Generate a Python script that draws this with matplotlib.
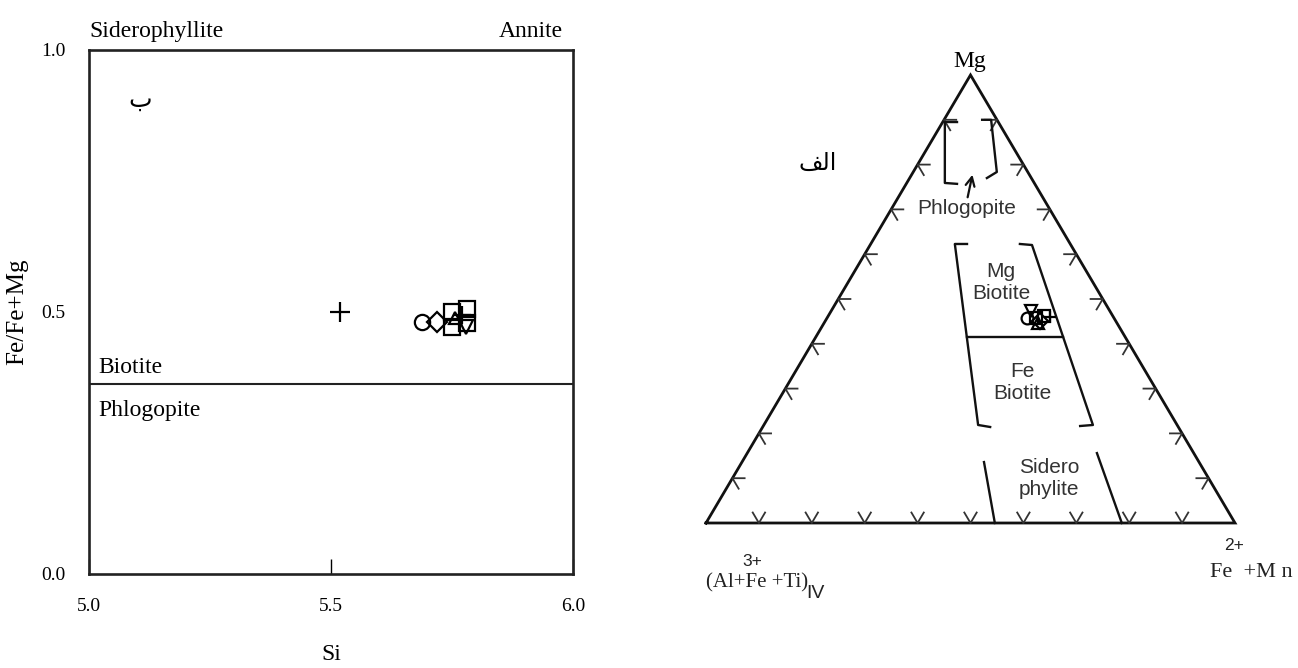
import numpy as np
import matplotlib.pyplot as plt

SERIF = ["Liberation Serif", "DejaVu Serif"]
SANS = ["Liberation Sans", "DejaVu Sans"]
ARABIC = ["DejaVu Sans"]

# ---- biotite analyses: Si (apfu) against Fe/(Fe+Mg) ----
si = [5.519, 5.688, 5.719, 5.750, 5.750, 5.781, 5.781, 5.779, 5.756, 5.771]
fe_fe_mg = [0.500, 0.481, 0.481, 0.500, 0.471, 0.506, 0.479, 0.471, 0.489, 0.494]
sym = ["+", "o", "D", "s", "s", "s", "s", "v", "^", "+"]
sym_size = [14, 11, 10, 12, 12, 12, 12, 10, 9, 13]

si_ticks = [5.0, 5.5, 6.0]
ratio_ticks = [0.0, 0.5, 1.0]
biotite_limit = 0.362  # biotite / phlogopite boundary

# ---- same analyses in the Mg - (Al+Fe3+ +Ti)IV - (Fe2+ +Mn) triangle ----
tern_mg = [0.458, 0.473, 0.458, 0.451, 0.462, 0.446, 0.460]
tern_fe = [0.378, 0.378, 0.395, 0.406, 0.408, 0.404, 0.420]
tern_sym = ["o", "v", "s", "D", "s", "^", "+"]

# field outlines as (Mg, Fe2+ +Mn) fractions along each polyline
phlog_left = [(0.895, 0.027), (0.895, 0.004), (0.759, 0.072), (0.757, 0.096)]
phlog_right = [(0.900, 0.072), (0.900, 0.089), (0.7835, 0.158), (0.770, 0.146)]
phlog_arrow = [(0.721, 0.133), (0.7835, 0.113)]
biot_left = [(0.6228, 0.182), (0.6228, 0.159), (0.2188, 0.405), (0.2143, 0.430)]
biot_right = [(0.6228, 0.282), (0.6205, 0.306), (0.2188, 0.622), (0.2165, 0.599)]
mg_fe_split = [(0.415, 0.286), (0.415, 0.467)]
sidero_left = [(0.136, 0.4575), (0.0, 0.546)]
sidero_right = [(0.156, 0.661), (0.0, 0.786)]

H = 0.8469  # apex height of the drawn triangle
L, R, T = np.array([0.0, 0.0]), np.array([1.0, 0.0]), np.array([0.5, H])


def tern_xy(mg, fe):
    mg = np.asarray(mg, dtype=float)
    fe = np.asarray(fe, dtype=float)
    return 0.5 * mg + fe, H * mg


def unit(v):
    return v / np.hypot(*v)


fig = plt.figure(figsize=(12.98, 6.68), dpi=100)

# ---------------- left diagram ----------------
ax = fig.add_axes([89 / 1298, 1 - 574 / 668, 484 / 1298, 524 / 668])
ax.set_xlim(5.0, 6.0)
ax.set_ylim(0.0, 1.0)
for s in ax.spines.values():
    s.set_linewidth(1.9)
    s.set_color("#222222")
ax.axhline(biotite_limit, color="#222222", lw=1.5)

for x, y, m, ms in zip(si, fe_fe_mg, sym, sym_size):
    ax.plot(x, y, marker=m, ms=ms, mfc="none", mec="black", mew=1.6, ls="none")

ax.set_xticks(si_ticks)
ax.set_xticklabels([f"{t:.1f}" for t in si_ticks])
ax.set_yticks(ratio_ticks)
ax.set_yticklabels([f"{t:.1f}" for t in ratio_ticks])
ax.tick_params(axis="x", direction="in", length=11, width=1.0, pad=17)
ax.tick_params(axis="y", length=0, pad=17)
for lab in ax.get_xticklabels() + ax.get_yticklabels():
    lab.set_family(SERIF)
    lab.set_fontsize(14)
ax.set_xlabel("Si", family=SERIF, fontsize=17, labelpad=21)
ax.set_ylabel("Fe/Fe+Mg", family=SERIF, fontsize=18, labelpad=9)

ax.text(5.0, 1.015, "Siderophyllite", family=SERIF, fontsize=17,
        ha="left", va="bottom", clip_on=False)
ax.text(5.98, 1.015, "Annite", family=SERIF, fontsize=17,
        ha="right", va="bottom", clip_on=False)
ax.text(5.02, biotite_limit + 0.012, "Biotite", family=SERIF, fontsize=17,
        ha="left", va="bottom")
ax.text(5.02, biotite_limit - 0.03, "Phlogopite", family=SERIF, fontsize=17,
        ha="left", va="top")
ax.text(5.105, 0.905, "\u0628", family=ARABIC, fontsize=18, ha="center", va="center")

# ---------------- right diagram (ternary) ----------------
tx = fig.add_axes([660 / 1298, 1 - 640 / 668, 638 / 1298, 620 / 668])
tx.set_xlim((660 - 706) / 529, (1298 - 706) / 529)
tx.set_ylim((523 - 640) / 529, (523 - 20) / 529)
tx.axis("off")

tri = np.array([L, R, T, L])
tx.plot(tri[:, 0], tri[:, 1], color="#111111", lw=2.0, solid_joinstyle="miter")

# chevron ticks every 10 % along each side, arms parallel to the other two sides
arm = 0.023
edges = [
    (L, R, unit(T - L), unit(T - R)),
    (L, T, unit(R - L), unit(R - T)),
    (R, T, unit(L - R), unit(L - T)),
]
for a, b, d1, d2 in edges:
    for f in np.arange(1, 10) / 10:
        p = a + f * (b - a)
        pts = np.array([p + arm * d1, p, p + arm * d2])
        tx.plot(pts[:, 0], pts[:, 1], color="#333333", lw=1.3)

for line in [phlog_left, phlog_right, biot_left, biot_right, mg_fe_split,
             sidero_left, sidero_right]:
    mg, fe = zip(*line)
    x, y = tern_xy(mg, fe)
    tx.plot(x, y, color="#111111", lw=1.7)

(a0, b0), (a1, b1) = phlog_arrow
x0, y0 = tern_xy(a0, b0)
x1, y1 = tern_xy(a1, b1)
tx.annotate("", xy=(x1, y1), xytext=(x0, y0),
            arrowprops=dict(arrowstyle="->", color="#111111", lw=1.6,
                            mutation_scale=16))

for mg, fe, m in zip(tern_mg, tern_fe, tern_sym):
    x, y = tern_xy(mg, fe)
    tx.plot(x, y, marker=m, ms=8.5, mfc="none", mec="black", mew=1.6, ls="none")

label_kw = dict(family=SANS, fontsize=15, ha="center", va="center",
                color="#333333", linespacing=1.2)
tx.text(0.499, 0.872, "Mg", family=SERIF, fontsize=17, ha="center", va="center")
tx.text(0.212, 0.681, "\ufed2\ufedf\ufe8d", family=ARABIC, fontsize=17,
        ha="center", va="center")
tx.text(0.493, 0.595, "Phlogopite", **label_kw)
tx.text(0.558, 0.455, "Mg\nBiotite", **label_kw)
tx.text(0.599, 0.266, "Fe\nBiotite", **label_kw)
tx.text(0.648, 0.085, "Sidero\nphylite", **label_kw)

tx.text(0.0, -0.113, "(Al+Fe +Ti)", family=SERIF, fontsize=15,
        ha="left", va="center", color="#222222")
tx.text(0.087, -0.072, "3+", family=SANS, fontsize=12.5, ha="center",
        va="center", color="#222222")
tx.text(0.19, -0.133, "IV", family=SANS, fontsize=14, ha="left",
        va="center", color="#222222")
tx.text(0.953, -0.093, "Fe  +M n", family=SERIF, fontsize=16,
        ha="left", va="center", color="#222222")
tx.text(0.998, -0.043, "2+", family=SANS, fontsize=12.5, ha="center",
        va="center", color="#222222")

fig.savefig("out.png", dpi=100)
